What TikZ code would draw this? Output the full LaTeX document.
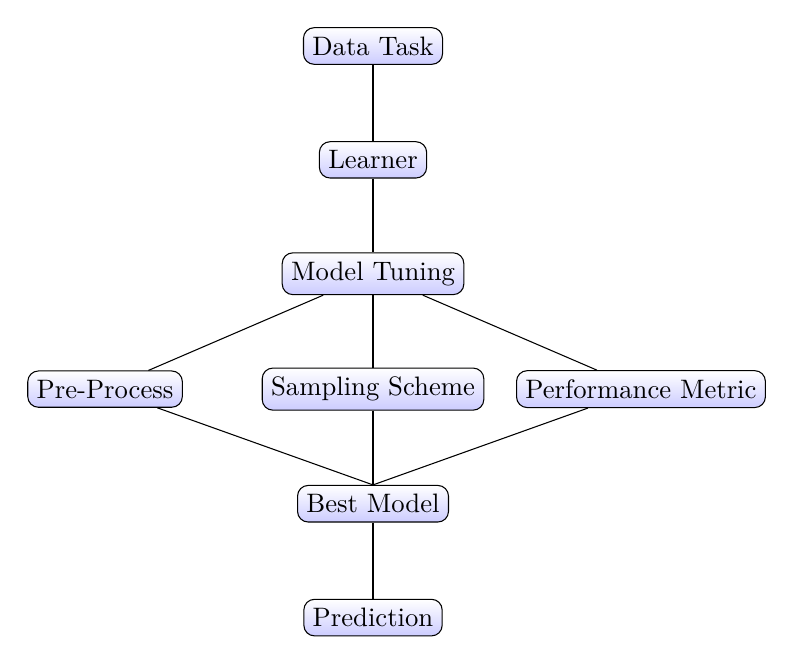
\documentclass[tikz,border=0pt]{standalone}
\usepackage{amsmath}
\usepackage{tikz}

\begin{document}
\begin{tikzpicture}[>=latex,
        box/.style={draw,rounded corners,top color=white,bottom color=blue!20}]
        \useasboundingbox (-4.914,0.606) rectangle (5.546,-8.144);

        \node[box] (task) at (0,0) {Data Task};
        \node[box] (learner) at (0,-1.5) {Learner};
        \node[box] (tuning) at (0,-3) {Model Tuning};
        \node[box] (pre) at (-3.53,-4.52) {Pre-Process};
        \node[box] (sampling) at (0,-4.52) {Sampling Scheme};
        \node[box] (metric) at (3.53,-4.52) {Performance Metric};
        \node[box] (best) at (0,-6.03) {Best Model};
        \node[box] (pred) at (0,-7.53) {Prediction};

        \draw (task)--(learner);
        \draw (learner)--(tuning);
        \foreach \n in {pre,sampling,metric}
        {
            \draw (tuning)--(\n);
            \draw (\n)--(best.north);
        }
        \draw (best)--(pred);
    \end{tikzpicture}
\end{document}
